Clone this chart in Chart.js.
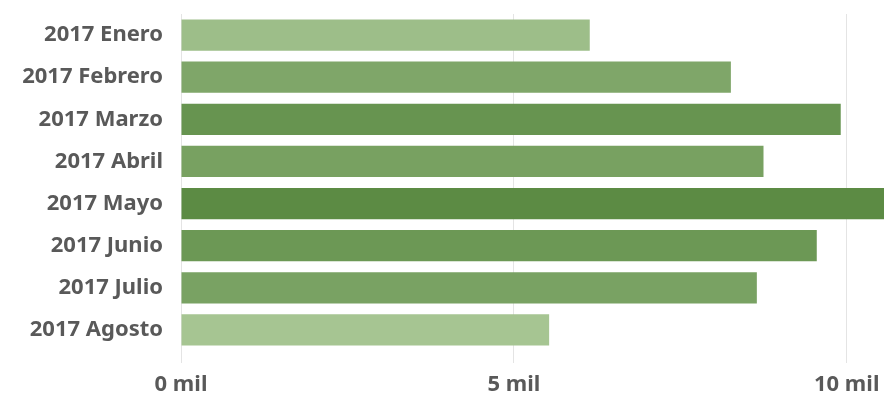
<!DOCTYPE html>
<html>
  <head>
    <script src="https://cdn.jsdelivr.net/npm/chart.js"></script>
  </head>
  <style>
    body {
      margin: 0;
      background: white;
    }
    #container {
      width: 884px;
      height: 397px;
    }
  </style>
  <body>
    <div id="container">
      <canvas id="monthChart"></canvas>
    </div>
    <script>
      const MONTHS = ['2017 Enero', '2017 Febrero', '2017 Marzo', '2017 Abril', '2017 Mayo', '2017 Junio', '2017 Julio', '2017 Agosto'];
      const VALUES = [6140, 8260, 9910, 8750, 10700, 9550, 8650, 5530];
      const X_TICKS = [0, 5000, 10000];

      // lighter green for small values, darker for big ones
      const LIGHT = [166, 197, 146];
      const DARK = [92, 139, 68];

      const colorFor = (value) => {
        const min = Math.min(...VALUES);
        const max = Math.max(...VALUES);
        const t = (value - min) / (max - min);
        const c = LIGHT.map((l, i) => Math.round(l + (DARK[i] - l) * t));
        return 'rgb(' + c.join(',') + ')';
      };

      const FONT = {
        family: '"Noto Sans", sans-serif',
        size: 22,
        weight: 'bold'
      };

      const config = {
        type: 'bar',
        data: {
          labels: MONTHS,
          datasets: [{
            data: VALUES,
            backgroundColor: VALUES.map(colorFor),
            borderWidth: 0,
            barPercentage: 0.74,
            categoryPercentage: 1
          }]
        },
        options: {
          indexAxis: 'y',
          responsive: true,
          maintainAspectRatio: false,
          animation: false,
          layout: {
            padding: { top: 14, right: 0, left: 0, bottom: 0 }
          },
          plugins: {
            legend: { display: false },
            tooltip: { enabled: false }
          },
          scales: {
            x: {
              min: 0,
              max: 10560,
              afterBuildTicks: (scale) => {
                scale.ticks = X_TICKS.map(v => ({ value: v }));
              },
              afterFit: (scale) => {
                scale.height = 46;
                scale.paddingLeft = 0;
                scale.paddingRight = 0;
              },
              grid: {
                color: '#e4e4e4',
                lineWidth: 1,
                tickLength: 12
              },
              border: { display: false },
              ticks: {
                color: '#595959',
                font: FONT,
                padding: 9,
                maxRotation: 0,
                callback: (value) => (value / 1000) + ' mil'
              }
            },
            y: {
              afterFit: (scale) => {
                scale.width = 181;
                scale.paddingTop = 0;
                scale.paddingBottom = 0;
              },
              grid: { display: false },
              border: { display: false },
              ticks: {
                color: '#595959',
                font: FONT,
                padding: 10
              }
            }
          }
        }
      };

      new Chart(document.getElementById('monthChart'), config);
    </script>
  </body>
</html>
